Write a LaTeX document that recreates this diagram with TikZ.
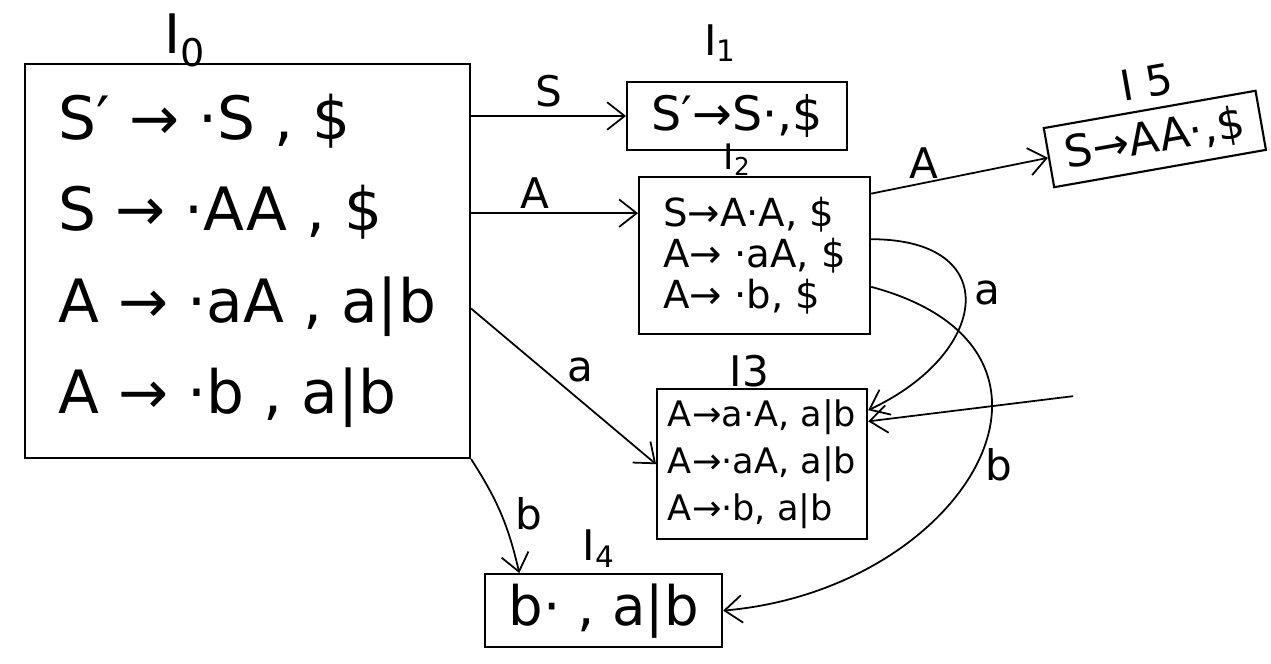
\documentclass[tikz,border=0pt]{standalone}
\usepackage{fontspec}
\setmainfont{DejaVu Sans}
\usepackage{tikz}
\usetikzlibrary{arrows.meta,positioning}

\tikzset{
  itembox/.style = {draw, line width=1.2pt, align=left, inner sep=2pt},
  tag/.style = {inner sep=0pt, font=\fontsize{24}{24}\selectfont},
  lbl/.style = {inner sep=2pt, font=\fontsize{24}{24}\selectfont},
}

\begin{document}
\begin{tikzpicture}[>={Straight Barb[length=3.5mm,width=5.5mm]}, line width=1pt]
        \useasboundingbox (0,0) rectangle (25.42,-13.28);

        \node (i0) [itembox, minimum width=8.9cm, minimum height=7.88cm, font=\fontsize{34}{52}\selectfont] at (4.95,-5.22)
          {S′ → ·S , \$\\S → ·AA , \$\\A → ·aA , a|b\\A → ·b , a|b};
        \node (i1) [itembox, minimum width=4.4cm, minimum height=1.36cm, font=\fontsize{27}{30}\selectfont,
          below right=0.36cm and 3.1cm of i0.north east] {S′→S·,\$};
        \node (i2) [itembox, minimum width=4.62cm, minimum height=3.14cm, font=\fontsize{22}{23.5}\selectfont,
          below right=0.5cm and 0.24cm of i1.south west] {S→A·A, \$\\A→ ·aA, \$\\A→ ·b, \$};
        \node (i3) [itembox, minimum width=4.2cm, minimum height=3cm, font=\fontsize{20}{27}\selectfont,
          below right=1.06cm and 0.36cm of i2.south west] {A→a·A, a|b\\A→·aA, a|b\\A→·b, a|b};
        \node (i4) [itembox, minimum width=4.74cm, minimum height=1.46cm, font=\fontsize{31}{34}\selectfont,
          below right=2.28cm and 0.26cm of i0.south east] {b· , a|b};
        \node (i5) [itembox, minimum width=4.3cm, minimum height=1.2cm, font=\fontsize{25}{28}\selectfont, rotate=10,
          right=3.6cm of i2.north east, yshift=3.7mm] {S→AA·,\$};

        % state names
        \node (t0) [tag, font=\fontsize{31}{31}\selectfont, above=-1mm of i0.north, xshift=-1.25cm] {I\textsubscript{0}};
        \node (t1) [tag, above=0.37cm of i1.north, xshift=-0.34cm] {I\textsubscript{1}};
        \node (t2) [tag, font=\fontsize{20}{20}\selectfont, above=0pt of i2.north, xshift=-0.35cm] {I\textsubscript{2}};
        \node (t3) [tag, above=0pt of i3.north, xshift=-0.25cm] {I3};
        \node (t4) [tag, above=0.1cm of i4.north, xshift=-0.1cm] {I\textsubscript{4}};
        \node (t5) [tag, rotate=10, above=0.2cm of i5.north] {I 5};

        \draw[->] (i0.east |- i1.west) -- node (lS) [lbl, above=1mm] {S} (i1.west);
        \draw[->] (i0.east |- i2.160) -- node (lA) [lbl, pos=0.38, above] {A} (i2.160);
        \draw[->] (i0.348) -- node (la) [lbl, pos=0.5, above right] {a} (i3.west);
        \draw[->] (i0.south east) to[bend left=10] node (lb) [lbl, right=2mm] {b} (i4.156);
        \draw[->] (i2.28) -- node (lA2) [lbl, pos=0.3, above] {A} (i5.west);
        \draw[->] (i2.8) to[out=0, in=25, looseness=2] node (la2) [lbl, pos=0.45, right=1mm] {a} (i3.27);
        \draw[->] (i2.345) to[out=-15, in=5, looseness=1.75] node (lb2) [lbl, pos=0.5, right=1mm] {b} (i4.east);

        \coordinate [below right=0.16cm and 4.1cm of i3.north east] (ext);
        \draw[->] (ext) -- (i3.22);
      \end{tikzpicture}
\end{document}
